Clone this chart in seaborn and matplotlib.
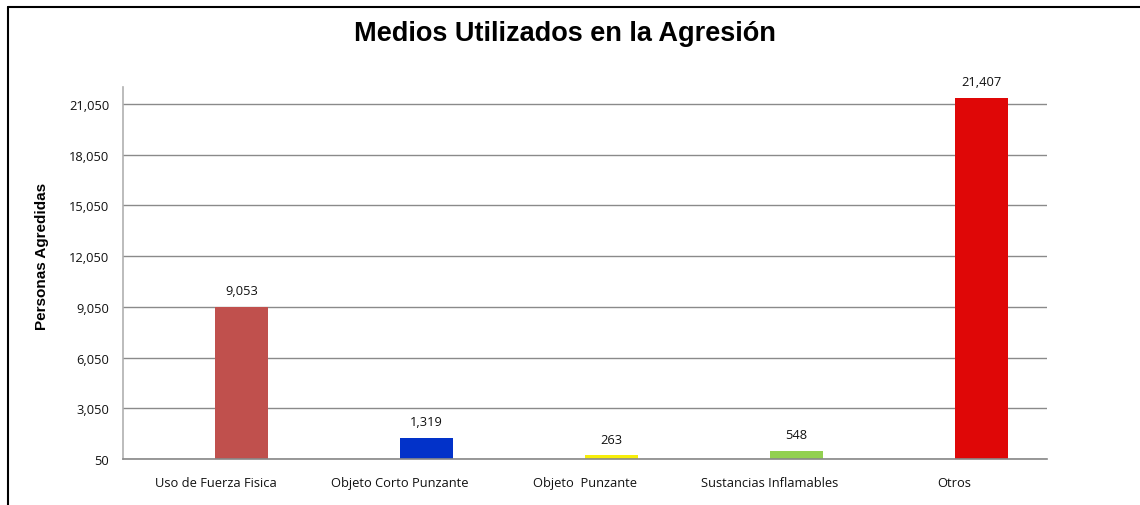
import seaborn as sns
import numpy as np
import pandas as pd
import matplotlib.pyplot as plt
from matplotlib.lines import Line2D

# data
categorias = ["Uso de Fuerza Fisica", "Objeto Corto Punzante", "Objeto  Punzante",
              "Sustancias Inflamables", "Otros"]
personas = [9053, 1319, 263, 548, 21407]
colores = ["#C0504D", "#0232C9", "#F7EE0A", "#92D050", "#DF0707"]
y_ticks = [50, 3050, 6050, 9050, 12050, 15050, 18050, 21050]

df = pd.DataFrame({"medio": categorias, "personas": personas})

sns.set_style("white")
plt.rcParams["font.family"] = ["Open Sans", "DejaVu Sans"]

fig = plt.figure(figsize=(11.4, 5.06), dpi=100)
ax = fig.add_axes([0.1079, 0.0909, 0.8105, 0.7352])

sns.barplot(data=df, x="medio", y="personas", hue="medio", palette=colores,
            order=categorias, hue_order=categorias, width=0.287, legend=False,
            saturation=1, ax=ax)

# excel-style: bar sits to the right of the category center
for p in ax.patches:
    p.set_x(p.get_x() + p.get_width() / 2)
    p.set_edgecolor("none")

for cont in ax.containers:
    ax.bar_label(cont, labels=[f"{v:,.0f}" for v in cont.datavalues],
                 padding=7, fontsize=9.3, color="#111111")

ax.set_ylim(50, 22050)
ax.set_xlim(-0.5, len(categorias) - 0.5)
ax.set_yticks(y_ticks)
ax.set_yticklabels([f"{t:,}" for t in y_ticks])
ax.yaxis.grid(True, color="#8a8a8a", lw=1)
ax.set_axisbelow(True)
ax.tick_params(axis="both", length=0, labelsize=9.3, colors="#111111", pad=10)
ax.tick_params(axis="x", pad=12)
for s in ["top", "right"]:
    ax.spines[s].set_visible(False)
ax.spines["left"].set_color("#b0b0b0")
ax.spines["left"].set_linewidth(1.2)
ax.spines["bottom"].set_color("#888888")
ax.spines["bottom"].set_linewidth(1.2)

ax.set_xlabel("")
ax.set_ylabel("Personas Agredidas", fontsize=11, fontweight="bold", color="black",
              family=["Liberation Sans", "DejaVu Sans"])
ax.yaxis.set_label_coords(-0.080, 0.546)

fig.text(565 / 1140, 1 - 34 / 506, "Medios Utilizados en la Agresión",
         ha="center", va="center", fontsize=19.5, fontweight="bold", color="black",
         family=["Liberation Sans", "DejaVu Sans"])

# chart frame (left and top edges visible)
fig.add_artist(Line2D([8 / 1140, 8 / 1140], [0, 1 - 8 / 506], color="black", lw=1.5))
fig.add_artist(Line2D([8 / 1140, 1], [1 - 8 / 506, 1 - 8 / 506], color="black", lw=1.5))

fig.savefig("out.png", dpi=100)
